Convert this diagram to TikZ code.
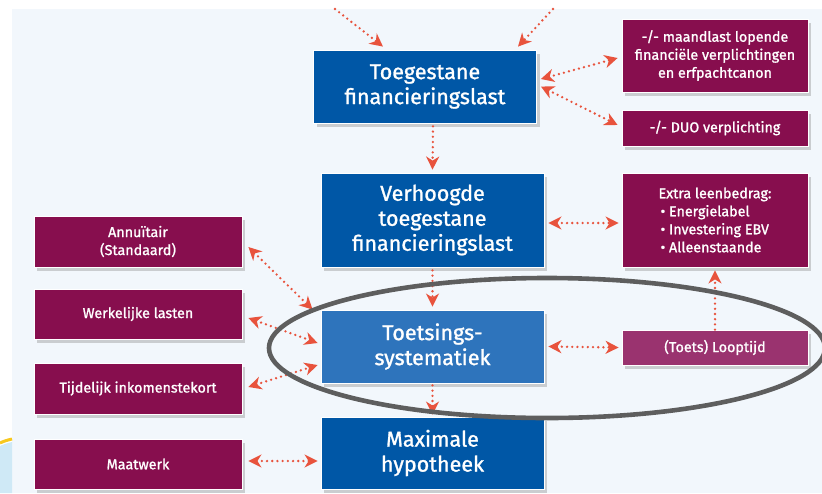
\documentclass[tikz,border=0pt]{standalone}
\usepackage{fontspec}
\setmainfont{Fira Sans}[FakeBold=1.2]
\usetikzlibrary{arrows.meta,shadows,calc}
\definecolor{bg}{HTML}{F2F7FC}
\definecolor{dblue}{HTML}{0057A6}
\definecolor{lblue}{HTML}{2E74BC}
\definecolor{purp}{HTML}{870E4E}
\definecolor{lpurp}{HTML}{9A336F}
\definecolor{arr}{HTML}{E8533D}
\definecolor{ring}{HTML}{5E5E5E}
\definecolor{decoblue}{HTML}{CFE9F6}
\definecolor{decoyellow}{HTML}{F7C81E}
\begin{document}
\begin{tikzpicture}[x=1pt,y=-1pt,
  >={Stealth[length=13pt,width=13pt,inset=4pt]},
  box/.style={draw=white, line width=0.8pt, align=center, inner sep=0pt, text=white,
    drop shadow={shadow xshift=3pt, shadow yshift=-4pt, opacity=0.35}},
  bluebox/.style={box, fill=dblue, minimum width=223pt, font=\fontsize{21.5}{25}\selectfont},
  purpbox/.style={box, fill=purp, minimum width=186pt, font=\fontsize{14.3}{18}\selectfont},
  leftbox/.style={purpbox, minimum width=208pt},
  conn/.style={draw=arr, line width=2.6pt, dash pattern=on 0pt off 5.2pt, line cap=round}]
\useasboundingbox (0,0) rectangle (822,493);
\clip (0,0) rectangle (822,493);
\fill[white] (0,0) rectangle (822,493);
\fill[bg] (12,9) rectangle (822,493);
% bottom-left decoration
\fill[decoblue] (0,446) .. controls (4,444) and (8,443) .. (12,442) -- (12,493) -- (0,493) -- cycle;
\draw[decoyellow, line width=3pt] (0,443) .. controls (4,441) and (8,440) .. (12,439);

% central column
\node[bluebox, minimum height=73pt] (T1) at (425,86.5) {Toegestane\\financieringslast};
\node[bluebox, minimum height=94pt] (V) at (432.5,220) {Verhoogde\\toegestane\\financieringslast};
\node[bluebox, fill=lblue, minimum height=73pt] (TS) at (432.5,346.5) {Toetsings-\\systematiek};
\node[bluebox, minimum height=72pt] (M) at (432.5,453) {Maximale\\hypotheek};

% right column
\node[purpbox, minimum height=73pt] (R1) at (715,55.5) {-/- maandlast lopende\\financiële verplichtingen\\en erfpachtcanon};
\node[purpbox, minimum height=36pt] (R2) at (715,128) {-/- DUO verplichting};
\node[purpbox, minimum height=94pt, align=left] (R3) at (715,220) {Extra leenbedrag:\\\hspace*{2pt}• Energielabel\\\hspace*{2pt}• Investering EBV\\\hspace*{2pt}• Alleenstaande};
\node[purpbox, fill=lpurp, minimum height=35pt] (R4) at (715,347.5) {(Toets) Looptijd};

% left column
\node[leftbox, minimum height=51pt] (L1) at (138,241.5) {Annuïtair\\(Standaard)};
\node[leftbox, minimum height=50pt] (L2) at (138,314) {Werkelijke lasten};
\node[leftbox, minimum height=51pt] (L3) at (138,388.5) {Tijdelijk inkomenstekort};
\node[leftbox, minimum height=50pt] (L4) at (138,464) {Maatwerk};

% connectors
\coordinate (in1) at (335,9);
\coordinate (in2) at (553,9);
\draw[conn,->] (in1) -- ([xshift=-42pt,yshift=3pt]T1.north);
\draw[conn,->] (in2) -- ([xshift=93pt,yshift=3pt]T1.north);
\draw[conn,<->] ([xshift=4pt,yshift=7.5pt]T1.east) -- ([xshift=-4pt,yshift=-2.5pt]R1.west);
\draw[conn,<->] ([xshift=4pt]T1.east) -- ([xshift=-4pt,yshift=3pt]R2.west);
\draw[conn,->] ([xshift=8pt,yshift=-3pt]T1.south) -- ([yshift=3pt]V.north);
\draw[conn,<->] ([xshift=4pt,yshift=-3pt]V.east) -- ([xshift=-3pt,yshift=-3pt]R3.west);
\draw[conn,->] ([yshift=-3pt]V.south) -- ([yshift=3pt]TS.north);
\draw[conn,<->] ([xshift=4pt]TS.east) -- ([xshift=-3pt]R4.west);
\draw[conn,->] (R4.north) -- ([yshift=-3pt]R3.south);
\draw[conn,->] ([yshift=-2pt]TS.south) -- ([yshift=2pt]M.north);
\draw[conn,<->] ([xshift=6pt,yshift=-5.5pt]L1.east) -- ([xshift=-8pt]TS.north west);
\draw[conn,<->] ([xshift=6pt,yshift=-4pt]L2.east) -- ([xshift=-3pt,yshift=3.5pt]TS.west);
\draw[conn,<->] ([xshift=6pt,yshift=1.5pt]L3.east) -- ([xshift=-3pt,yshift=-18.5pt]TS.west);
\draw[conn,<->] ([xshift=6pt,yshift=3pt]L4.east) -- ([xshift=-3pt,yshift=-8pt]M.west);

% ring
\draw[ring, line width=4.6pt] (547,348) ellipse [x radius=278, y radius=70];
\end{tikzpicture}
\end{document}
